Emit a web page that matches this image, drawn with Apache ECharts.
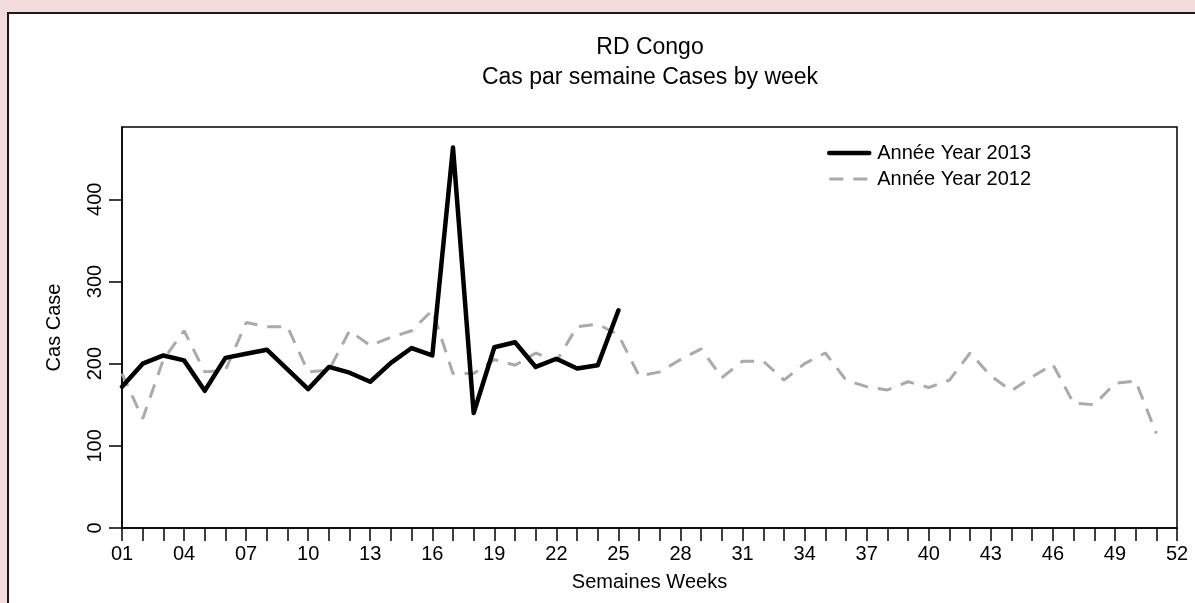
<!DOCTYPE html>
<html>
<head>
<meta charset="utf-8">
<script src="https://cdn.jsdelivr.net/npm/echarts@6/dist/echarts.min.js"></script>
<style>
  html, body { margin: 0; padding: 0; width: 1195px; height: 603px; overflow: hidden; background: #f2dcdc; }
  #panel { position: absolute; left: 7px; top: 12px; width: 1200px; height: 620px; background: #ffffff; border: 2px solid #1a1a1a; }
  #chart { position: absolute; left: 0; top: 0; width: 1195px; height: 603px; }
</style>
</head>
<body>
<div id="panel"></div>
<div id="chart"></div>
<script>
// Week labels (x-axis categories)
const weeks = ['01','02','03','04','05','06','07','08','09','10','11','12','13','14','15','16','17','18','19','20',
  '21','22','23','24','25','26','27','28','29','30','31','32','33','34','35','36','37','38','39','40',
  '41','42','43','44','45','46','47','48','49','50','51','52'];
// Cases by week, 2013 (weeks 1-25)
const cases2013 = [172,200,210,204,167,207,212,217,193,169,196,189,178,201,219,210,463,140,220,226,196,206,194,198,265];
// Cases by week, 2012 (weeks 1-51)
const cases2012 = [188,133,205,240,190,192,250,245,245,190,192,240,222,232,240,265,188,188,205,198,213,203,245,248,235,
  185,190,205,218,183,203,203,180,200,213,180,172,168,178,171,180,213,185,167,184,199,152,150,176,179,115];
// Y-axis tick values
const yTicks = [0,100,200,300,400];

const titleText = 'RD Congo';
const subtitleText = 'Cas par semaine Cases by week';
const name2013 = 'Année Year 2013';
const name2012 = 'Année Year 2012';

const FONT = 'Liberation Sans, Arial, sans-serif';
const chart = echarts.init(document.getElementById('chart'), null, { renderer: 'canvas' });
chart.setOption({
  backgroundColor: 'transparent',
  animation: false,
  textStyle: { fontFamily: FONT, color: '#000' },
  graphic: [
    { type: 'text', style: { text: titleText, x: 650, y: 48, align: 'center', verticalAlign: 'middle', fontSize: 23, fontFamily: FONT, fill: '#000' } },
    { type: 'text', style: { text: subtitleText, x: 650, y: 78, align: 'center', verticalAlign: 'middle', fontSize: 23, fontFamily: FONT, fill: '#000' } }
  ],
  legend: {
    orient: 'vertical',
    left: 822,
    top: 138,
    itemWidth: 40,
    itemHeight: 16,
    itemGap: 6,
    data: [name2013, name2012],
    itemStyle: { opacity: 0 },
    lineStyle: { width: 'inherit' },
    textStyle: { fontSize: 20, lineHeight: 20, fontFamily: FONT, color: '#000', padding: [0, 0, 0, 3] }
  },
  grid: {
    left: 122, top: 127, right: 18, bottom: 75,
    show: true, borderColor: '#000', borderWidth: 1.5, backgroundColor: 'transparent'
  },
  xAxis: {
    type: 'category',
    data: weeks,
    boundaryGap: false,
    name: 'Semaines Weeks',
    nameLocation: 'middle',
    nameGap: 44,
    nameTextStyle: { fontSize: 20, fontFamily: FONT, color: '#000' },
    axisLine: { lineStyle: { color: '#000', width: 1.5 } },
    axisTick: { show: true, interval: 0, length: 13, lineStyle: { color: '#000', width: 1.5 } },
    axisLabel: { interval: 2, margin: 16, fontSize: 20, fontFamily: FONT, color: '#000' },
    splitLine: { show: false }
  },
  yAxis: {
    type: 'value',
    min: 0,
    max: 488,
    interval: 100,
    name: 'Cas Case',
    nameLocation: 'middle',
    nameGap: 58,
    nameRotate: 90,
    nameTextStyle: { fontSize: 20, fontFamily: FONT, color: '#000' },
    axisLine: { show: true, lineStyle: { color: '#000', width: 1.5 } },
    axisTick: { show: true, length: 13, customValues: yTicks, lineStyle: { color: '#000', width: 1.5 } },
    axisLabel: { rotate: 90, margin: 17, fontSize: 20, fontFamily: FONT, color: '#000', customValues: yTicks },
    splitLine: { show: false }
  },
  series: [
    {
      name: name2012,
      type: 'line',
      data: cases2012,
      symbol: 'none',
      z: 2,
      lineStyle: { color: '#aaaaaa', width: 3, type: [14, 10] },
      itemStyle: { color: '#aaaaaa' }
    },
    {
      name: name2013,
      type: 'line',
      data: cases2013,
      symbol: 'none',
      z: 3,
      lineStyle: { color: '#000000', width: 4.5, join: 'round', cap: 'round' },
      itemStyle: { color: '#000000' }
    }
  ]
});
</script>
</body>
</html>
